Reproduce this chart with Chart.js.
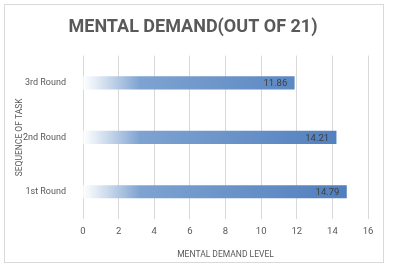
<!DOCTYPE html>
<html>
<head>
<meta charset="utf-8">
<script src="https://cdn.jsdelivr.net/npm/chart.js@4"></script>
<style>
  html, body { margin: 0; padding: 0; background: #fff; }
  #wrap { position: relative; width: 393px; height: 278px; }
  #frame { position: absolute; left: 4px; top: 4px; width: 378px; height: 257px; border: 1px solid #d9d9d9; }
  #chart { position: absolute; left: 0; top: 0; }
</style>
</head>
<body>
<div id="wrap">
  <div id="frame"></div>
  <canvas id="chart" width="393" height="278"></canvas>
</div>
<script>
const rounds = ['3rd Round', '2nd Round', '1st Round'];
const demand = [11.86, 14.21, 14.79];
const xTicks = [0, 2, 4, 6, 8, 10, 12, 14, 16];

const FONT = "Roboto, sans-serif";
const GREY = '#595959';

const barFill = (ctx) => {
  const area = ctx.chart.chartArea;
  if (!area) return '#6e96c9';
  const g = ctx.chart.ctx.createLinearGradient(area.left, 0, area.right, 0);
  g.addColorStop(0, 'rgba(255,255,255,0.9)');
  g.addColorStop(0.2, '#7ea3d1');
  g.addColorStop(1, '#4c7bbc');
  return g;
};

const valueLabels = {
  id: 'valueLabels',
  afterDatasetsDraw(chart) {
    const { ctx } = chart;
    const meta = chart.getDatasetMeta(0);
    ctx.save();
    ctx.font = `9.5px ${FONT}`;
    ctx.fillStyle = '#404040';
    ctx.textAlign = 'right';
    ctx.textBaseline = 'middle';
    meta.data.forEach((bar, i) => {
      ctx.fillText(demand[i].toFixed(2), bar.x - 7, bar.y + 1);
    });
    ctx.restore();
  },
};

new Chart(document.getElementById('chart'), {
  type: 'bar',
  data: {
    labels: rounds,
    datasets: [
      {
        data: demand,
        backgroundColor: barFill,
        borderWidth: 0,
        barThickness: 12.5,
      },
    ],
  },
  options: {
    indexAxis: 'y',
    responsive: false,
    animation: false,
    layout: { padding: { left: 0, right: 7, top: 0, bottom: 0 } },
    plugins: {
      legend: { display: false },
      tooltip: { enabled: false },
      title: {
        display: true,
        text: 'MENTAL DEMAND(OUT OF 21)',
        color: GREY,
        font: { family: FONT, size: 18, weight: 'bold' },
        padding: { top: 17, bottom: 17 },
      },
    },
    scales: {
      x: {
        min: 0,
        max: 16,
        afterBuildTicks: (axis) => { axis.ticks = xTicks.map((v) => ({ value: v })); },
        afterFit: (axis) => { axis.height = 59; },
        grid: { color: '#d9d9d9', drawTicks: false },
        border: { display: false },
        ticks: { color: GREY, font: { family: FONT, size: 9.5 }, padding: 7 },
        title: {
          display: true,
          text: 'MENTAL DEMAND LEVEL',
          color: GREY,
          font: { family: FONT, size: 8.5 },
          padding: { top: 0, bottom: 18 },
        },
      },
      y: {
        afterFit: (axis) => { axis.width = 83; },
        grid: { display: false },
        border: { display: false },
        ticks: { color: GREY, font: { family: FONT, size: 9 }, padding: 9 },
        title: {
          display: true,
          text: 'SEQUENCE OF TASK',
          color: GREY,
          font: { family: FONT, size: 8.5 },
          padding: { top: 15, bottom: 0 },
        },
      },
      // empty right-hand margin so the title centres like the original
      yr: {
        position: 'right',
        afterFit: (axis) => { axis.width = 18; },
        grid: { display: false },
        border: { display: false },
        ticks: { display: false },
      },
    },
  },
  plugins: [valueLabels],
});
</script>
</body>
</html>
